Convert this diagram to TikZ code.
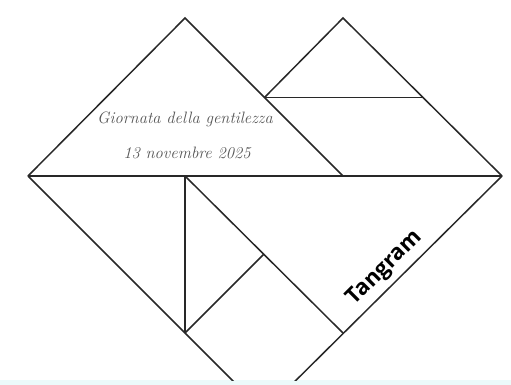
\documentclass[tikz,border=0pt]{standalone}
\usepackage{fontspec}
\newfontfamily\tgfont{Open Sans}
\definecolor{edge}{RGB}{40,40,40}
\definecolor{script}{RGB}{85,85,85}
\definecolor{band}{RGB}{236,250,250}
\begin{document}
\begin{tikzpicture}[x=1pt,y=-1pt,
  piece/.style={draw=edge,line width=1.5pt,line join=miter,line cap=butt},
  hand/.style={text=script,font=\fontsize{16.5}{19}\selectfont\itshape,inner sep=0pt},
  tg/.style={text=black,font=\tgfont\bfseries\fontsize{22}{25}\selectfont,inner sep=0pt,rotate=45}]
\useasboundingbox (0,0) rectangle (511,385);
\fill[white] (0,0) rectangle (511,385);
\fill[band] (0,380) rectangle (511,385);
% key points
\coordinate (L) at (28,176);
\coordinate (R) at (502,176);
\coordinate (P1) at (185,18);
\coordinate (P2) at (343,18);
\coordinate (V) at (264.5,97.5);
\coordinate (H) at (423.5,97.5);
\coordinate (M) at (343,176);
\coordinate (C) at (185,176);
\coordinate (B1) at (185,333);
\coordinate (B2) at (343,333);
\coordinate (Q) at (264,254);
\coordinate (Bot) at (264,412);
\begin{scope}
\clip (0,0) rectangle (511,380);
\draw[piece] (L) -- (P1) -- (M);
\draw[piece] (L) -- (R);
\draw[piece] (V) -- (P2) -- (R);
\draw[piece] (V) -- (H);
\draw[piece] (L) -- (Bot) -- (R);
\draw[piece] (C) -- (B1);
\draw[piece] (C) -- (B2);
\draw[piece] (B1) -- (Q);
\end{scope}
\node[hand] (t1) at (185,119) {Giornata della gentilezza};
\node[hand] (t2) at (187,153) {13 novembre 2025};
\node[tg] (tg) at (385,268) {Tangram};
\end{tikzpicture}
\end{document}
